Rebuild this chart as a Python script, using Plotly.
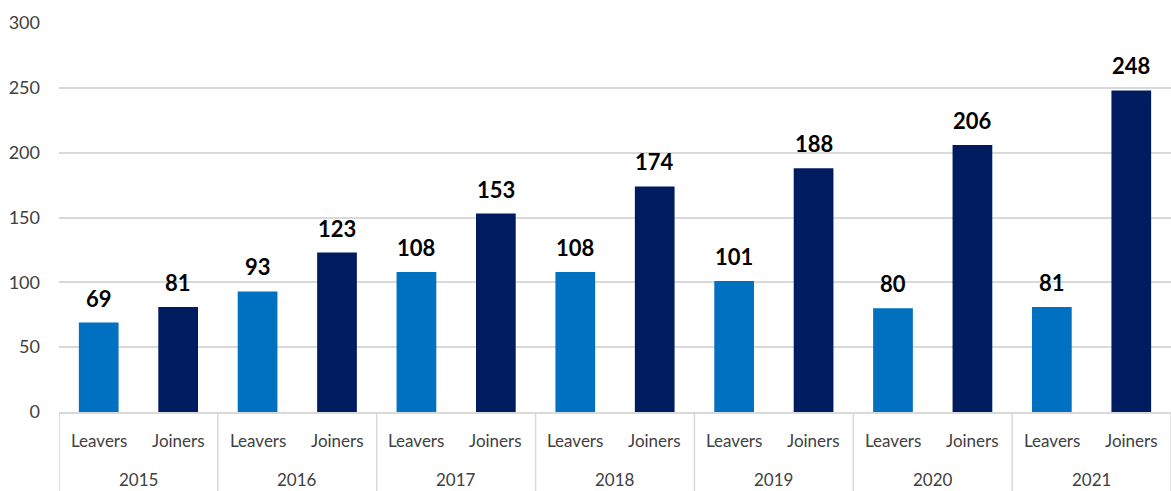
import plotly.graph_objects as go

years = ["2015", "2016", "2017", "2018", "2019", "2020", "2021"]
leavers = [69, 93, 108, 108, 101, 80, 81]
joiners = [81, 123, 153, 174, 188, 206, 248]
sub_labels = ["Leavers", "Joiners"]
y_ticks = [0, 50, 100, 150, 200, 250, 300]

LEAVER_COLOR = "#0070C0"
JOINER_COLOR = "#001C61"
GRID = "#D9D9D9"
FONT = "Lato, 'Open Sans', sans-serif"

W, H = 1171, 491
M_L, M_R, M_T, M_B = 59, 0, 23, 79
PLOT_H = H - M_T - M_B

n = len(years)
lev_x = [2 * i for i in range(n)]
join_x = [2 * i + 1 for i in range(n)]

fig = go.Figure()
fig.add_trace(go.Bar(x=lev_x, y=leavers, name="Leavers", width=0.5,
                     marker=dict(color=LEAVER_COLOR, line=dict(width=0))))
fig.add_trace(go.Bar(x=join_x, y=joiners, name="Joiners", width=0.5,
                     marker=dict(color=JOINER_COLOR, line=dict(width=0))))

annotations = []
# value labels
for xs, vals in ((lev_x, leavers), (join_x, joiners)):
    for x, v in zip(xs, vals):
        annotations.append(dict(x=x, y=v, xref="x", yref="y", text=f"<b>{v}</b>",
                                showarrow=False, yanchor="bottom", yshift=9,
                                font=dict(family=FONT, size=22, color="#000000")))
# category labels
for i, yr in enumerate(years):
    for j, lab in enumerate(sub_labels):
        annotations.append(dict(x=2 * i + j, y=-(440 - (H - M_B)) / PLOT_H, xref="x", yref="paper",
                                text=lab, showarrow=False, yanchor="middle",
                                font=dict(family=FONT, size=17, color="#404040")))
    annotations.append(dict(x=2 * i + 0.5, y=-(479 - (H - M_B)) / PLOT_H, xref="x", yref="paper",
                            text=yr, showarrow=False, yanchor="middle",
                            font=dict(family=FONT, size=17, color="#404040")))

shapes = []
for i in range(n + 1):
    shapes.append(dict(type="line", xref="x", yref="paper", x0=2 * i - 0.5, x1=2 * i - 0.5,
                       y0=0, y1=-M_B / PLOT_H, line=dict(color=GRID, width=1.5)))

fig.update_layout(
    width=W, height=H,
    margin=dict(l=M_L, r=M_R, t=M_T, b=M_B),
    paper_bgcolor="white", plot_bgcolor="white",
    barmode="overlay", showlegend=False,
    font=dict(family=FONT, size=17, color="#404040"),
    annotations=annotations, shapes=shapes,
)
fig.update_xaxes(
    range=[-0.5, 2 * n - 0.5], showticklabels=False, ticks="",
    showline=True, linecolor=GRID, linewidth=1.5, showgrid=False, zeroline=False,
)
fig.update_yaxes(
    range=[0, 300], tickvals=y_ticks, ticktext=[str(v) for v in y_ticks],
    showgrid=True, gridcolor=GRID, gridwidth=1.5,
    zeroline=False, showline=False,
    ticklabelstandoff=18,
    tickfont=dict(family=FONT, size=18, color="#404040"),
)

fig.write_html("out.html")
